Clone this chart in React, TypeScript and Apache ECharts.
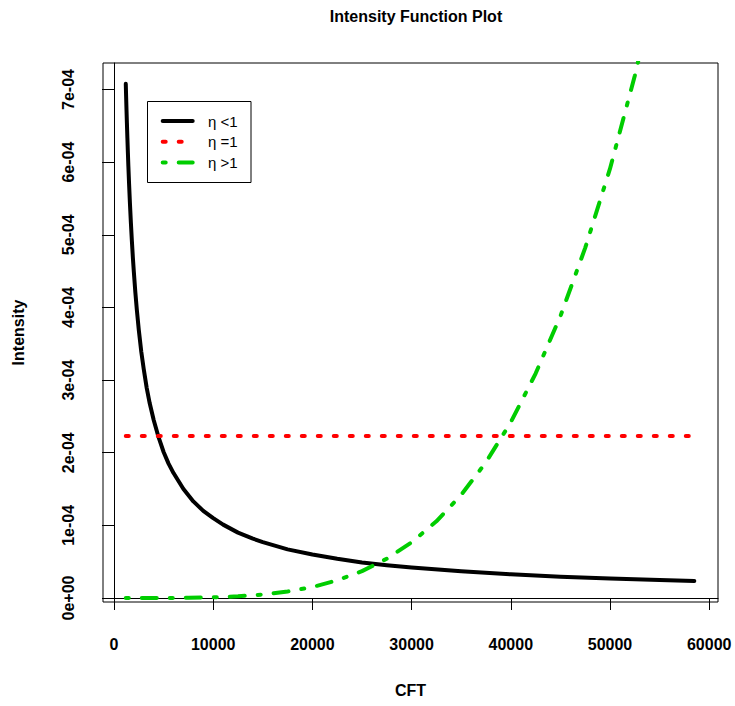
import React, { useEffect, useRef } from "react";
import * as echarts from "echarts";

// CFT values and intensities
const cftBlack = [1187, 1220, 1260, 1300, 1350, 1400, 1450, 1520, 1600, 1700, 1800, 1900, 2000, 2150, 2300, 2500, 2750, 3000, 3300, 3600, 4000, 4500, 5000, 5500, 6000, 7000, 8000, 9000, 10000, 11000, 12500, 14000, 15000, 17500, 20000, 22500, 25000, 27500, 30000, 35000, 40000, 45000, 50000, 55000, 58500];
const intensityBlack = [7.08e-4, 6.91e-4, 6.72e-4, 6.54e-4, 6.33e-4, 6.13e-4, 5.94e-4, 5.7e-4, 5.45e-4, 5.17e-4, 4.92e-4, 4.69e-4, 4.49e-4, 4.21e-4, 3.97e-4, 3.69e-4, 3.39e-4, 3.15e-4, 2.89e-4, 2.68e-4, 2.45e-4, 2.21e-4, 2.01e-4, 1.85e-4, 1.72e-4, 1.5e-4, 1.33e-4, 1.2e-4, 1.1e-4, 1.01e-4, 0.9e-4, 0.817e-4, 0.77e-4, 0.67e-4, 0.6e-4, 0.54e-4, 0.49e-4, 0.452e-4, 0.42e-4, 0.367e-4, 0.326e-4, 0.294e-4, 0.268e-4, 0.247e-4, 0.234e-4];

const cftRed = [1187, 58591];
const intensityRed = [2.23e-4, 2.23e-4];

const cftGreen = [1187, 5000, 7500, 10000, 12500, 15000, 17500, 20000, 22500, 25000, 27500, 30000, 32500, 35000, 37500, 40000, 42500, 45000, 47500, 50000, 52500, 55000];
const intensityGreen = [0, 0.0006e-4, 0.003e-4, 0.0095e-4, 0.023e-4, 0.048e-4, 0.089e-4, 0.151e-4, 0.243e-4, 0.37e-4, 0.541e-4, 0.766e-4, 1.056e-4, 1.42e-4, 1.87e-4, 2.42e-4, 3.09e-4, 3.88e-4, 4.82e-4, 5.91e-4, 7.19e-4, 8.66e-4];

const xTicks = [0, 10000, 20000, 30000, 40000, 50000, 60000];
const xTickLabels = ["0", "10000", "20000", "30000", "40000", "50000", "60000"];
const yTicks = [0, 1e-4, 2e-4, 3e-4, 4e-4, 5e-4, 6e-4, 7e-4];
const yTickLabels = ["0e+00", "1e-04", "2e-04", "3e-04", "4e-04", "5e-04", "6e-04", "7e-04"];

const legendLabels = ["\u03b7 <1", "\u03b7 =1", "\u03b7 >1"];
const seriesColors = ["#000000", "#ff0000", "#00cd00"];
const seriesDash: (number[] | "solid")[] = ["solid", [3, 13], [3, 13, 15, 13]];

const FONT = '"Liberation Sans", Arial, Helvetica, sans-serif';

export default function App() {
  const ref = useRef<HTMLDivElement>(null);
  useEffect(() => {
    if (!ref.current) return;
    const chart = echarts.init(ref.current, null, { renderer: "svg" });
    const pairs = (xs: number[], ys: number[]) => xs.map((x, i) => [x, ys[i]]);
    const datasets = [
      pairs(cftBlack, intensityBlack),
      pairs(cftRed, intensityRed),
      pairs(cftGreen, intensityGreen),
    ];
    const legendTop = 121;
    const legendStep = 20.8;
    const legendGraphics: any[] = [
      {
        type: "rect",
        shape: { x: 147.5, y: 101.5, width: 103.5, height: 81 },
        style: { fill: "#fff", stroke: "#000", lineWidth: 1 },
        z: 100,
      },
    ];
    legendLabels.forEach((lab, i) => {
      const y = legendTop + i * legendStep;
      legendGraphics.push({
        type: "line",
        shape: { x1: 162.7, y1: y, x2: 192.7, y2: y },
        style: {
          stroke: seriesColors[i],
          lineWidth: 4,
          lineCap: "round",
          lineDash: seriesDash[i] === "solid" ? null : seriesDash[i],
        },
        z: 101,
      });
      legendGraphics.push({
        type: "text",
        style: {
          text: lab,
          x: 208,
          y: y,
          font: `15px ${FONT}`,
          fill: "#000",
          verticalAlign: "middle",
        },
        z: 101,
      });
    });

    chart.setOption({
      animation: false,
      backgroundColor: "#ffffff",
      title: {
        text: "Intensity Function Plot",
        left: 411,
        textAlign: "center",
        top: 3,
        textStyle: { fontFamily: FONT, fontWeight: "bold", fontSize: 16, color: "#000" },
      },
      grid: {
        show: true,
        left: 103,
        right: 17,
        top: 63,
        bottom: 104,
        borderColor: "#000",
        borderWidth: 1,
        backgroundColor: "transparent",
      },
      xAxis: {
        type: "value",
        min: -1109,
        max: 60887,
        name: "CFT",
        nameLocation: "middle",
        nameGap: 80,
        nameTextStyle: { fontFamily: FONT, fontWeight: "bold", fontSize: 16, color: "#000" },
        axisLine: { show: true, lineStyle: { color: "#000", width: 1 } },
        axisTick: { show: true, length: 12, customValues: xTicks, lineStyle: { color: "#000", width: 1 } },
        axisLabel: {
          customValues: xTicks,
          formatter: (v: number) => xTickLabels[xTicks.indexOf(Math.round(v))] ?? String(v),
          fontFamily: FONT,
          fontWeight: "bold",
          fontSize: 16,
          color: "#000",
          margin: 34,
        },
        splitLine: { show: false },
      },
      yAxis: {
        type: "value",
        min: -0.055e-4,
        max: 7.365e-4,
        name: "Intensity",
        nameLocation: "middle",
        nameGap: 77,
        nameTextStyle: { fontFamily: FONT, fontWeight: "bold", fontSize: 16, color: "#000" },
        axisLine: { show: true, lineStyle: { color: "#000", width: 1 } },
        axisTick: { show: true, length: 12, customValues: yTicks, lineStyle: { color: "#000", width: 1 } },
        axisLabel: {
          customValues: yTicks,
          rotate: 90,
          formatter: (v: number) => yTickLabels[Math.round(v / 1e-4)] ?? String(v),
          fontFamily: FONT,
          fontWeight: "bold",
          fontSize: 16,
          color: "#000",
          margin: 27,
        },
        splitLine: { show: false },
      },
      series: datasets.map((d, i) => ({
        type: "line",
        data: d,
        showSymbol: false,
        symbol: "none",
        clip: true,
        lineStyle: {
          color: seriesColors[i],
          width: 4,
          type: seriesDash[i],
          cap: "round",
          join: "round",
        },
        z: 2 + i,
      })),
      graphic: legendGraphics,
    });
    return () => chart.dispose();
  }, []);
  return (
    <div
      ref={ref}
      style={{ position: "fixed", left: 0, top: 0, width: 735, height: 706, background: "#fff" }}
    />
  );
}
